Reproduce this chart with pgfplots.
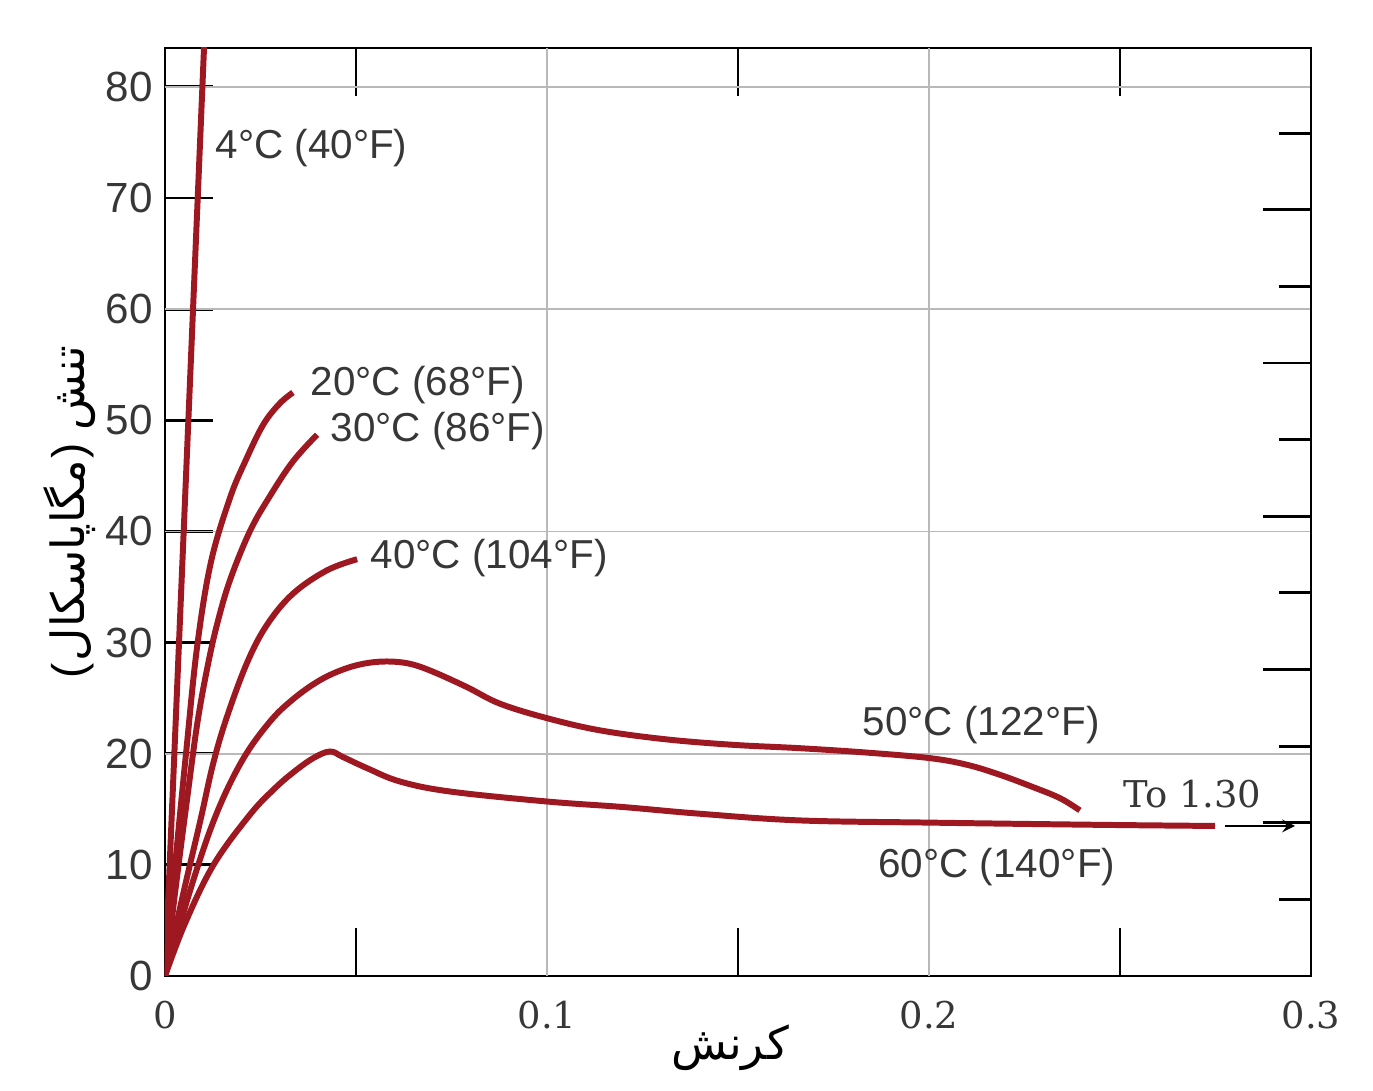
\documentclass[border=0pt]{standalone}
\usepackage{fontspec}
\setmainfont{Liberation Sans}
\newfontfamily\serifnum{DejaVu Serif}
\newfontfamily\arabicfont[Script=Arabic]{DejaVu Sans}
\usepackage{pgfplots}
\pgfplotsset{compat=1.18}
\TeXXeTstate=1
\definecolor{curve}{RGB}{158,24,34}
\definecolor{txt}{RGB}{55,55,55}
\pgfplotsset{crv/.style={color=curve, line width=1.7pt, smooth, tension=0.6, mark=none, solid}}

\begin{document}
\begin{tikzpicture}
\useasboundingbox (-1.65cm,-1.15cm) rectangle (12.08cm,9.76cm);
\begin{axis}[
  at={(0,0)}, anchor=south west,
  scale only axis, width=11.46cm, height=9.28cm,
  xmin=0, xmax=0.3, ymin=0, ymax=83.5,
  axis line style={black, line width=0.8pt},
  tick align=inside,
  major tick length=4.8mm, minor tick length=4.8mm,
  tick style={black, line width=0.8pt},
  xtick={0,0.1,0.2,0.3}, xticklabels={0,0.1,0.2,0.3},
  minor xtick={0.05,0.15,0.25},
  xtick pos=both, xticklabel pos=bottom,
  ytick={0,10,...,80}, ytick pos=left,
  /pgf/number format/assume math mode=true,
  yticklabel style={font=\fontsize{12}{14}\selectfont, text=txt},
  xticklabel style={font=\serifnum\fontsize{10.5}{12}\selectfont, text=txt, yshift=-1.3mm},
  extra x ticks={0.1,0.2}, extra y ticks={20,40,60,80},
  extra x tick labels={}, extra y tick labels={},
  extra tick style={grid=major, major tick length=0pt},
  grid style={gray!55, line width=0.5pt},
  xlabel={\arabicfont\fontsize{13}{15}\selectfont\beginR کرنش\endR},
  xlabel style={at={(axis description cs:0.493,-0.0776)}, anchor=center},
  ylabel={\fontsize{13}{15}\selectfont(\kern0.5pt{\arabicfont\beginR مگاپاسکال\endR}\kern0.5pt)\ {\arabicfont\beginR تنش\endR}},
  ylabel style={at={(axis description cs:-0.083,0.5)}, anchor=center},
  clip=true,
]
% 4 C
\addplot[crv] coordinates {(0,0) (0.0104,85)};
% 20 C
\addplot[crv] coordinates {(0,0) (0.0028,10.5) (0.0055,20) (0.0084,29.6) (0.012,37.2) (0.017,43) (0.021,46.3) (0.0257,49.6) (0.030,51.5) (0.0335,52.5)};
% 30 C
\addplot[crv] coordinates {(0,0) (0.003,8.5) (0.0057,15.7) (0.0084,22.6) (0.011,27.6) (0.0136,31.6) (0.017,35.6) (0.0222,40) (0.0275,43.2) (0.0335,46.3) (0.0398,48.7)};
% 40 C
\addplot[crv] coordinates {(0,0) (0.0047,7.3) (0.0092,13.9) (0.0126,19.1) (0.0162,23.3) (0.0215,28.2) (0.0267,31.6) (0.0335,34.4) (0.0424,36.5) (0.0503,37.5)};
% 50 C
\addplot[crv] coordinates {(0,0) (0.0073,8.5) (0.0136,14.7) (0.0204,19.5) (0.0275,22.9) (0.0335,24.9) (0.040,26.5) (0.046,27.5) (0.052,28.1) (0.058,28.3) (0.064,28.1) (0.070,27.4) (0.079,26) (0.0877,24.5) (0.100,23.2) (0.1139,22.1) (0.131,21.3) (0.1487,20.8) (0.166,20.5) (0.1838,20.1) (0.2003,19.6) (0.210,19.0) (0.2186,18.1) (0.2272,17.0) (0.2343,16.0) (0.2395,14.9)};
% 60 C
\addplot[crv] coordinates {(0,0) (0.0052,4.7) (0.0127,10) (0.0222,14.5) (0.0285,16.8) (0.0335,18.3) (0.0388,19.6) (0.0432,20.2) (0.0466,19.7) (0.0529,18.7) (0.0615,17.5) (0.0746,16.6) (0.100,15.7) (0.120,15.2) (0.14,14.6) (0.166,14.0) (0.2003,13.8) (0.2448,13.6) (0.2749,13.5)};

\draw[-stealth, line width=0.6pt, black] (axis cs:0.2775,13.5) -- (axis cs:0.2958,13.5);

\begin{scope}[every node/.style={anchor=west, inner sep=0pt, text=txt, font=\fontsize{11.5}{13}\selectfont}]
\node at (axis cs:0.01309,74.5) {4°C (40°F)};
\node at (axis cs:0.03796,53.2) {20°C (68°F)};
\node at (axis cs:0.0432,49.0) {30°C (86°F)};
\node at (axis cs:0.0537,37.6) {40°C (104°F)};
\node at (axis cs:0.1825,22.6) {50°C (122°F)};
\node at (axis cs:0.1866,9.8) {60°C (140°F)};
\node[font=\serifnum\fontsize{10.5}{12}\selectfont] at (axis cs:0.2507,16.4) {To 1.30};
\end{scope}
\end{axis}

\begin{axis}[
  at={(0,0)}, anchor=south west,
  scale only axis, width=11.46cm, height=9.28cm,
  xmin=0, xmax=0.3, ymin=0, ymax=83.5,
  axis x line=none, axis y line*=right,
  ytick={13.79,27.58,41.37,55.16,68.95},
  minor ytick={6.895,20.68,34.47,48.26,62.05,75.84},
  yticklabels={},
  tick align=inside,
  major tick length=4.8mm, minor tick length=3.2mm,
  tick style={black, line width=0.8pt},
  axis line style={black, line width=0.8pt},
]
\end{axis}
\end{tikzpicture}
\end{document}
